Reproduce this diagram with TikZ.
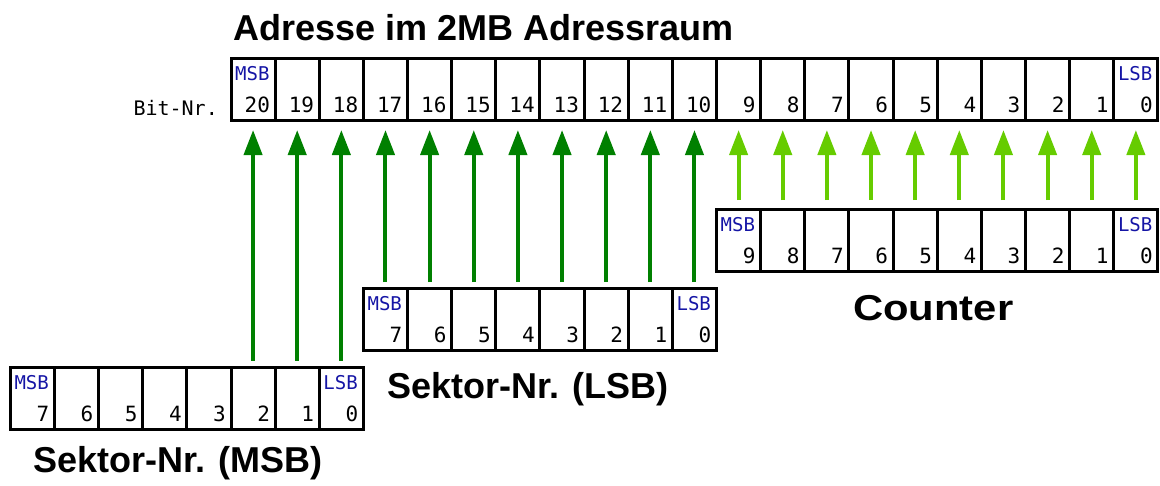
\documentclass[tikz,border=0pt]{standalone}
\usepackage{fontspec}
\setmainfont{Liberation Sans}
\newfontfamily\monofont{DejaVu Sans Mono}
\usetikzlibrary{arrows.meta,calc}
\definecolor{dgreen}{HTML}{008000}
\definecolor{lgreen}{HTML}{66CC00}
\definecolor{bitblue}{HTML}{1515A5}
\begin{document}
\begin{tikzpicture}[x=1pt,y=-1pt,
  cell/.style={draw, line width=3pt, minimum width=44.14pt, minimum height=62pt, inner sep=0pt, outer sep=0pt},
  num/.style={font=\monofont\fontsize{21}{21}\selectfont, anchor=base east, inner sep=0pt},
  tag/.style={font=\monofont\fontsize{19}{19}\selectfont, text=bitblue, anchor=north west, inner sep=0pt},
  heading/.style={font=\bfseries\fontsize{36}{36}\selectfont, anchor=base west, inner sep=0pt},
  arr/.style={line width=4pt, -{Triangle[width=18pt,length=25pt]}}]
\useasboundingbox (0,0) rectangle (1160,485);
% top register
\foreach \b in {0,...,20} {
  \pgfmathsetmacro\cx{231+44.14*(20-\b+0.5)}
  \node[cell] (t\b) at (\cx,89) {};
  \node[num] (tn\b) at ($(t\b.south east)+(-5,-8)$) {\b};
}
\node[tag] (tmsb) at ($(t20.north west)+(4,8)$) {MSB};
\node[tag] (tlsb) at ($(t0.north west)+(4,8)$) {LSB};
\node[font=\monofont\fontsize{20}{20}\selectfont, anchor=base east, inner sep=0pt] (bitnr) at (218,115) {Bit-Nr.};
% counter register
\foreach \b in {0,...,9} {
  \pgfmathsetmacro\cx{231+44.14*(20-\b+0.5)}
  \node[cell] (c\b) at (\cx,240) {};
  \node[num] (cn\b) at ($(c\b.south east)+(-5,-8)$) {\b};
}
\node[tag] (cmsb) at ($(c9.north west)+(4,8)$) {MSB};
\node[tag] (clsb) at ($(c0.north west)+(4,8)$) {LSB};
% sector LSB register
\foreach \b in {0,...,7} {
  \pgfmathsetmacro\cx{231+44.14*(10-\b+0.5)}
  \node[cell] (l\b) at (\cx,319) {};
  \node[num] (ln\b) at ($(l\b.south east)+(-5,-8)$) {\b};
}
\node[tag] (lmsb) at ($(l7.north west)+(4,8)$) {MSB};
\node[tag] (llsb) at ($(l0.north west)+(4,8)$) {LSB};
% sector MSB register
\foreach \b in {0,...,7} {
  \pgfmathsetmacro\cx{231+44.14*(2-\b+0.5)}
  \node[cell] (m\b) at (\cx,398.5) {};
  \node[num] (mn\b) at ($(m\b.south east)+(-5,-8)$) {\b};
}
\node[tag] (mmsb) at ($(m7.north west)+(4,8)$) {MSB};
\node[tag] (mlsb) at ($(m0.north west)+(4,8)$) {LSB};
% arrows
\foreach \s/\d in {2/20,1/19,0/18}
  \draw[arr, dgreen] ([yshift=7pt]m\s.north) -- ([yshift=-10pt]t\d.south);
\foreach \s in {0,...,7} {
  \pgfmathtruncatemacro\d{\s+10}
  \draw[arr, dgreen] ([yshift=6pt]l\s.north) -- ([yshift=-10pt]t\d.south);
}
\foreach \s in {0,...,9}
  \draw[arr, lgreen] ([yshift=9pt]c\s.north) -- ([yshift=-10pt]t\s.south);
% headings
\node[heading] (hadr) at (233,40) {Adresse im 2MB Adressraum};
\node[heading] (hcnt) at (853,320) {\scalebox{1.16}[1]{Counter}};
\node[heading] (hlsb) at (387,398) {Sektor-Nr. (LSB)};
\node[heading] (hmsb) at (33,472) {Sektor-Nr. (MSB)};
\end{tikzpicture}
\end{document}
